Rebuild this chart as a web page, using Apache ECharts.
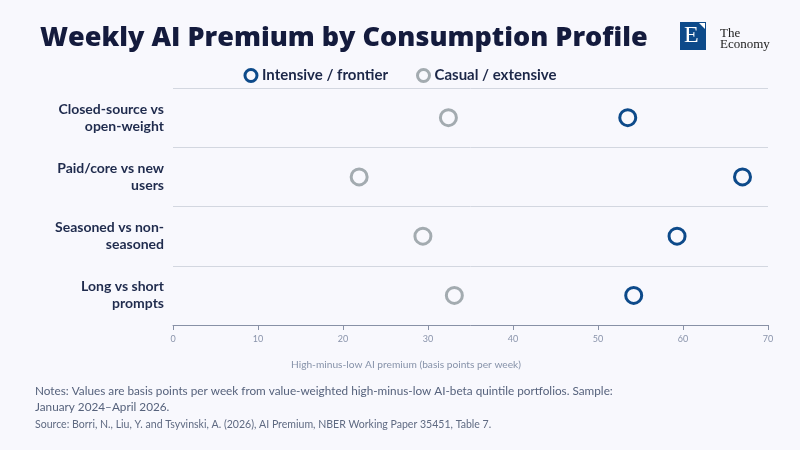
<!DOCTYPE html>
<html>
<head>
<meta charset="utf-8">
<script src="https://cdn.jsdelivr.net/npm/echarts@6/dist/echarts.min.js"></script>
<style>
html, body { margin: 0; padding: 0; background: #f8f8fd; }
#chart { width: 800px; height: 450px; }
</style>
</head>
<body>
<div id="chart"></div>
<script>
// categories, top to bottom
const categories = [
    "Closed-source vs\nopen-weight",
    "Paid/core vs new\nusers",
    "Seasoned vs non-\nseasoned",
    "Long vs short\nprompts"
]
// basis points per week
const intensiveValues = [53.5, 67.0, 59.3, 54.2]
const casualValues = [32.4, 21.9, 29.4, 33.1]
const xTicks = [0, 10, 20, 30, 40, 50, 60, 70]

const navy = "#0d4a8a"
const grey = "#a3abb0"
const font = "Lato, 'Noto Sans', sans-serif"

let chart = echarts.init(document.getElementById("chart"))

let option = {
    backgroundColor: "#f8f8fd",
    textStyle: { fontFamily: font },
    title: {
        text: "Weekly AI Premium by Consumption Profile",
        left: 35,
        top: 20,
        textStyle: { fontSize: 27, fontWeight: 800, color: "#141b3d", fontFamily: "'Open Sans', sans-serif" }
    },
    legend: {
        top: 63,
        left: "center",
        itemWidth: 12,
        itemHeight: 12,
        itemGap: 28,
        textStyle: { fontSize: 15, fontWeight: "bold", color: "#1c2748", fontFamily: font },
        data: [
            { name: "Intensive / frontier", icon: "circle", itemStyle: { color: "#f8f8fd", borderColor: navy, borderWidth: 3 } },
            { name: "Casual / extensive", icon: "circle", itemStyle: { color: "#f8f8fd", borderColor: grey, borderWidth: 3 } }
        ]
    },
    grid: { left: 173, right: 32, top: 88, bottom: 125 },
    xAxis: {
        type: "value",
        min: xTicks[0],
        max: xTicks[xTicks.length - 1],
        interval: 10,
        axisLine: { show: true, lineStyle: { color: "#8891a6", width: 1 } },
        axisTick: { show: true, length: 5, lineStyle: { color: "#8891a6" } },
        axisLabel: { fontSize: 9, color: "#8a94ab", margin: 10 },
        splitLine: { show: false }
    },
    yAxis: {
        type: "category",
        data: categories,
        inverse: true,
        axisLine: { show: false },
        axisTick: { show: false },
        axisLabel: { fontSize: 14, fontWeight: "bold", color: "#1f2b4d", lineHeight: 17, margin: 9, align: "right" },
        splitLine: { show: true, lineStyle: { color: "#d3d7e0", width: 1 } }
    },
    series: [
        {
            name: "Intensive / frontier",
            type: "scatter",
            data: intensiveValues,
            symbol: "circle",
            symbolSize: 16,
            itemStyle: { color: "#f8f8fd", borderColor: navy, borderWidth: 3, opacity: 1 },
            z: 3
        },
        {
            name: "Casual / extensive",
            type: "scatter",
            data: casualValues,
            symbol: "circle",
            symbolSize: 16,
            itemStyle: { color: "#f8f8fd", borderColor: grey, borderWidth: 3, opacity: 1 },
            z: 3
        }
    ],
    graphic: [
        { type: "text", x: 406, y: 365, style: { text: "High-minus-low AI premium (basis points per week)", fill: "#8692a9", align: "center", verticalAlign: "middle", font: "10.2px " + font } },
        { type: "rect", left: 680, top: 22, shape: { width: 26, height: 28 }, style: { fill: "#0d4a8a" } },
        { type: "text", left: 684, top: 24, style: { text: "E", fill: "#ffffff", font: "24px 'Liberation Serif', serif" } },
        { type: "polygon", shape: { points: [[699, 23], [705, 23], [705, 29]] }, style: { fill: "#ffffff" } },
        { type: "text", left: 720, top: 27, style: { text: "The\nEconomy", fill: "#222222", lineHeight: 11, font: "13px 'Liberation Serif', serif" } },
        { type: "text", left: 35, top: 383, style: { text: "Notes: Values are basis points per week from value-weighted high-minus-low AI-beta quintile portfolios. Sample:\nJanuary 2024\u2013April 2026.", fill: "#56627c", lineHeight: 16, font: "11.75px " + font } },
        { type: "text", left: 35, top: 419, style: { text: "Source: Borri, N., Liu, Y. and Tsyvinski, A. (2026), AI Premium, NBER Working Paper 35451, Table 7.", fill: "#5f6a82", font: "10.55px " + font } }
    ]
}

chart.setOption(option)
</script>
</body>
</html>
